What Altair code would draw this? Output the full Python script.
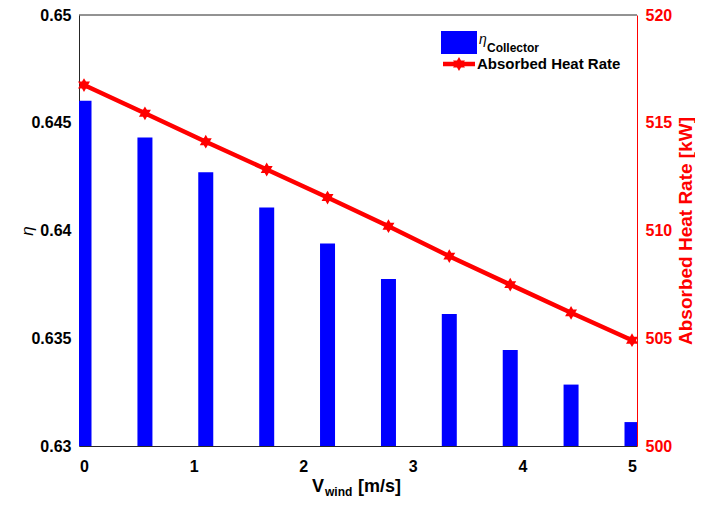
import altair as alt
import pandas as pd

# ---- data ----
v_wind = [0.0, 0.556, 1.111, 1.667, 2.222, 2.778, 3.333, 3.889, 4.444, 5.0]
eta_collector = [0.64602, 0.64432, 0.64270, 0.64107, 0.63940,
                 0.63775, 0.63613, 0.63446, 0.63285, 0.63111]
heat_rate = [516.75, 515.44, 514.12, 512.83, 511.53,
             510.20, 508.81, 507.49, 506.18, 504.91]
x_ticks = [0, 1, 2, 3, 4, 5]
eta_ticks = [0.63, 0.635, 0.64, 0.645, 0.65]
heat_ticks = [500, 505, 510, 515, 520]

df = pd.DataFrame({"v": v_wind, "eta": eta_collector, "q": heat_rate})
one = pd.DataFrame({"k": [0]})

FONT = "Liberation Sans"
W, H = 558, 431
BLUE = "#0000FF"
RED = "#FF0000"
STAR = ("M0,-1L0.289,-0.5L0.866,-0.5L0.577,0L0.866,0.5L0.289,0.5L0,1"
        "L-0.289,0.5L-0.866,0.5L-0.577,0L-0.866,-0.5L-0.289,-0.5Z")

xenc = alt.X(
    "v:Q",
    scale=alt.Scale(domain=[0, 5], nice=False, zero=False),
    axis=alt.Axis(values=x_ticks, format="d", title=None, grid=False,
                  ticks=False, tickSize=0, labelPadding=12,
                  labelFontSize=16, labelFontWeight="bold", labelColor="#000000",
                  labelFont=FONT, domainColor="#262626", labelFlush=False),
)

bars = alt.Chart(df).mark_bar(color=BLUE, size=15, clip=True).encode(
    x=xenc,
    y=alt.Y("eta:Q",
            scale=alt.Scale(domain=[0.63, 0.65], nice=False, zero=False),
            axis=alt.Axis(values=eta_ticks, format=".3~f", orient="left",
                          title="η", titleFont=FONT, titleFontStyle="italic",
                          titleFontWeight="normal", titleFontSize=17,
                          titleColor="#000000",
                          titleX=-52, titleY=H / 2, titleAngle=270,
                          titleAlign="center", titleBaseline="middle",
                          grid=False, ticks=False, tickSize=0, labelPadding=8,
                          labelFontSize=16, labelFontWeight="bold",
                          labelColor="#000000", labelFont=FONT,
                          domainColor="#262626", labelFlush=False)),
    y2=alt.datum(0.63),
)

yright = alt.Y("q:Q",
               scale=alt.Scale(domain=[500, 520], nice=False, zero=False),
               axis=alt.Axis(values=heat_ticks, format="d", orient="right",
                             title="Absorbed Heat Rate [kW]", titleFont=FONT,
                             titleFontWeight="bold", titleFontSize=19,
                             titleColor=RED,
                             titleX=48, titleY=H / 2, titleAngle=270,
                             titleAlign="center", titleBaseline="middle",
                             grid=False, ticks=False, tickSize=0, labelPadding=8,
                             labelFontSize=16, labelFontWeight="bold",
                             labelColor=RED, labelFont=FONT,
                             domainColor=RED, labelFlush=False))

line = alt.Chart(df).mark_line(color=RED, strokeWidth=4.5).encode(x=xenc, y=yright)
points = alt.Chart(df).mark_point(shape=STAR, size=190, filled=True,
                                  color=RED, opacity=1).encode(x=xenc, y=yright)
right_layer = alt.layer(line, points)

# top border of the box
top_border = alt.Chart(one).mark_rule(color="#262626", strokeWidth=1).encode(
    x=alt.value(0), x2=alt.value(W), y=alt.value(0))

# x axis title with subscript
xt_v = alt.Chart(one).mark_text(text="V", font=FONT, fontSize=18, fontWeight="bold",
                                align="left", baseline="alphabetic", color="#000000").encode(
    x=alt.value(233), y=alt.value(477))
xt_sub = alt.Chart(one).mark_text(text="wind", font=FONT, fontSize=12, fontWeight="bold",
                                  align="left", baseline="alphabetic", color="#000000").encode(
    x=alt.value(246), y=alt.value(481))
xt_unit = alt.Chart(one).mark_text(text="[m/s]", font=FONT, fontSize=18, fontWeight="bold",
                                   align="left", baseline="alphabetic", color="#000000").encode(
    x=alt.value(279), y=alt.value(477))

# manual legend
lg_rect = alt.Chart(one).mark_rect(color=BLUE).encode(
    x=alt.value(362), x2=alt.value(398), y=alt.value(16), y2=alt.value(39))
lg_eta = alt.Chart(one).mark_text(text="η", font=FONT, fontSize=14, fontStyle="italic",
                                  align="left", baseline="alphabetic", color="#000000").encode(
    x=alt.value(400), y=alt.value(29))
lg_coll = alt.Chart(one).mark_text(text="Collector", font=FONT, fontSize=12, fontWeight="bold",
                                   align="left", baseline="alphabetic", color="#000000").encode(
    x=alt.value(408), y=alt.value(37))
lg_line = alt.Chart(one).mark_rule(color=RED, strokeWidth=4.5).encode(
    x=alt.value(364), x2=alt.value(396), y=alt.value(49))
lg_star = alt.Chart(one).mark_point(shape=STAR, size=190, filled=True, color=RED,
                                    opacity=1).encode(x=alt.value(380), y=alt.value(49))
lg_text = alt.Chart(one).mark_text(text="Absorbed Heat Rate", font=FONT, fontSize=15,
                                   fontWeight="bold", align="left", baseline="alphabetic",
                                   color="#000000").encode(x=alt.value(398), y=alt.value(54))

chart = alt.layer(
    bars, right_layer, top_border, xt_v, xt_sub, xt_unit,
    lg_rect, lg_eta, lg_coll, lg_line, lg_star, lg_text,
).resolve_scale(y="independent").properties(
    width=W, height=H,
    autosize=alt.AutoSizeParams(type="none"),
    padding={"left": 71, "top": 7, "right": 58, "bottom": 54},
    background="white",
).configure_view(stroke=None)

chart.save("out.html", embed_options={"renderer": "svg", "actions": False})
